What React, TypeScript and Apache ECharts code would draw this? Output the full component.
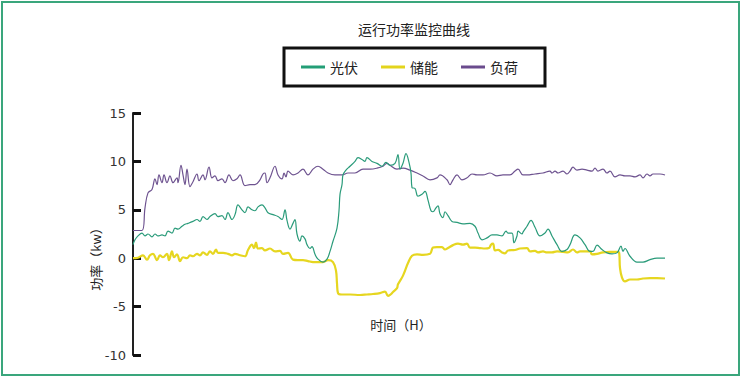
import React, { useEffect, useRef } from "react";
import * as echarts from "echarts";

// time steps along the x axis (arbitrary units, 0..532), values in kW
const loadData: [number, number][] = [
  [0, 2.86], [9, 2.86], [12, 5.2], [15, 6.75], [19, 7.1], [22, 8.2], [24, 7.6], [26, 8.6], [29, 7.8], [31, 8.6],
  [34, 7.8], [37, 8.5], [40, 7.8], [44, 8.3], [45, 7.8], [48, 9.6], [50, 8.6], [52, 7.6], [54, 9.2], [57, 7.4],
  [60, 7.9], [64, 8.7], [66, 8.0], [70, 8.6], [72, 8.1], [76, 9.4], [79, 8.3], [82, 8.5], [85, 8.0], [89, 8.2],
  [92, 7.8], [96, 8.6], [100, 8.0], [104, 8.2], [107, 8.6], [112, 7.5], [117, 7.6], [122, 7.6], [127, 8.1], [130, 8.7],
  [132, 8.8], [134, 7.8], [137, 8.3], [142, 9.5], [145, 8.6], [149, 8.2], [151, 8.8], [153, 8.4], [155, 9.0], [160, 8.6],
  [165, 8.8], [170, 9.2], [175, 8.6], [180, 9.2], [185, 9.5], [190, 9.2], [195, 8.8], [202, 8.6], [209, 8.6], [215, 8.8],
  [222, 8.8], [230, 9.2], [237, 9.2], [244, 9.3], [250, 9.5], [254, 9.8], [257, 9.6], [264, 9.2], [270, 9.3], [277, 9.1],
  [284, 8.8], [290, 8.5], [297, 8.1], [304, 8.3], [307, 8.6], [314, 8.1], [317, 7.6], [320, 8.1], [324, 8.6], [329, 8.1],
  [334, 8.3], [339, 8.7], [344, 8.6], [350, 8.6], [357, 8.8], [364, 8.5], [370, 8.6], [377, 8.6], [382, 9.0], [385, 9.2],
  [390, 8.6], [394, 8.6], [402, 8.7], [410, 8.8], [417, 9.0], [419, 8.8], [422, 9.0], [425, 8.8], [430, 9.0], [434, 8.7],
  [437, 9.0], [440, 9.4], [444, 9.1], [449, 9.2], [454, 9.1], [459, 9.0], [462, 9.3], [465, 9.0], [470, 9.2], [474, 8.8],
  [477, 9.0], [482, 8.4], [487, 8.6], [492, 8.5], [497, 8.5], [502, 8.4], [507, 8.6], [510, 8.3], [514, 8.7], [517, 8.5],
  [520, 8.7], [527, 8.7], [532, 8.6],
];

const pvData: [number, number][] = [
  [0, 1.4], [2, 1.9], [5, 2.3], [9, 2.6], [12, 2.3], [15, 2.5], [19, 2.2], [22, 2.5], [25, 2.3], [29, 2.4],
  [32, 2.3], [35, 2.8], [39, 2.6], [42, 3.1], [45, 3.0], [49, 3.3], [52, 3.5], [55, 3.6], [60, 3.8], [64, 4.0],
  [67, 3.8], [70, 4.3], [74, 4.0], [77, 4.3], [82, 4.6], [85, 4.3], [89, 4.4], [92, 4.0], [95, 4.7], [99, 4.0],
  [102, 4.5], [105, 5.5], [109, 5.0], [112, 4.7], [115, 5.3], [119, 5.0], [122, 4.9], [125, 5.3], [129, 5.5], [132, 5.2],
  [135, 4.7], [140, 4.5], [145, 4.3], [149, 4.0], [152, 5.0], [154, 3.9], [157, 3.0], [160, 3.6], [162, 4.0], [164, 2.5],
  [167, 1.75], [169, 2.3], [172, 2.0], [174, 1.4], [177, 1.0], [179, 1.2], [182, 0.4], [185, -0.1], [190, -0.4], [194, -0.1],
  [197, 0.7], [200, 1.75], [204, 3.1], [206, 4.9], [207, 6.6], [209, 7.6], [210, 8.6], [213, 9.1], [217, 9.5], [222, 10.0],
  [225, 10.4], [229, 10.2], [232, 10.0], [234, 10.4], [239, 10.0], [244, 9.8], [249, 9.5], [253, 9.9], [257, 9.6], [262, 9.8],
  [265, 10.7], [267, 9.2], [270, 9.8], [273, 10.8], [276, 9.9], [278, 8.8], [279, 7.3], [282, 7.2], [285, 6.4], [289, 6.6],
  [292, 6.9], [295, 6.0], [298, 4.9], [300, 4.8], [303, 5.2], [305, 5.4], [307, 4.6], [310, 4.2], [312, 4.8], [315, 4.4],
  [319, 3.8], [324, 3.7], [330, 3.55], [337, 3.6], [342, 3.3], [345, 2.6], [349, 1.9], [354, 2.1], [359, 2.4], [364, 2.4],
  [369, 2.3], [373, 2.8], [375, 2.6], [379, 2.6], [381, 1.6], [384, 2.3], [385, 2.8], [389, 2.5], [390, 2.7], [394, 3.3],
  [398, 3.9], [402, 3.2], [407, 2.3], [412, 2.6], [415, 3.0], [419, 2.3], [424, 1.4], [429, 0.7], [434, 0.9], [437, 1.4],
  [442, 2.4], [447, 2.1], [452, 1.4], [457, 0.7], [460, 0.7], [464, 1.35], [469, 0.9], [474, 0.55], [479, 0.45], [484, 0.55],
  [488, 1.25], [490, 0.7], [492, 1.0], [497, 0.2], [504, -0.4], [510, -0.4], [517, -0.15], [524, 0.0], [532, 0.0],
];

const storageData: [number, number][] = [
  [0, 0.0], [5, 0.05], [10, 0.3], [14, -0.15], [17, 0.3], [20, 0.45], [24, -0.2], [27, 0.3], [30, 0.1], [34, 0.45],
  [36, -0.2], [39, 0.7], [41, 0.1], [44, 0.4], [47, -0.3], [50, 0.1], [54, 0.0], [57, 0.3], [60, 0.2], [64, 0.45],
  [67, 0.3], [70, 0.6], [74, 0.35], [77, 0.7], [80, 0.45], [83, 0.9], [85, 0.55], [90, 0.55], [95, 0.45], [99, 0.3],
  [102, 0.45], [107, 0.3], [112, 0.2], [115, 0.85], [119, 1.4], [121, 1.05], [123, 1.6], [125, 1.0], [129, 1.05], [132, 0.8],
  [137, 1.0], [142, 0.7], [147, 0.75], [150, 0.45], [155, 0.55], [160, -0.15], [165, -0.2], [170, -0.2], [175, -0.3], [180, -0.4],
  [185, -0.4], [190, -0.4], [195, -0.2], [200, -0.4], [203, -1.3], [204, -2.6], [205, -3.6], [209, -3.75], [217, -3.75], [227, -3.8],
  [234, -3.75], [240, -3.7], [247, -3.6], [252, -3.45], [255, -3.9], [257, -3.8], [260, -3.5], [264, -3.1], [265, -2.7], [270, -1.8],
  [275, -0.5], [279, 0.25], [284, 0.4], [290, 0.35], [297, 0.45], [300, 1.1], [304, 1.15], [309, 1.15], [312, 0.9], [315, 1.05],
  [320, 1.35], [325, 1.5], [330, 1.4], [334, 1.5], [337, 1.1], [342, 1.1], [347, 1.05], [352, 1.0], [356, 1.05], [358, 1.4],
  [360, 1.5], [362, 0.8], [365, 0.85], [369, 0.6], [372, 0.5], [375, 0.8], [382, 0.85], [387, 1.0], [394, 1.05], [397, 0.7],
  [402, 0.75], [405, 0.6], [410, 0.7], [414, 0.6], [419, 0.6], [424, 0.7], [430, 0.65], [435, 0.6], [440, 0.9], [444, 0.6],
  [447, 0.7], [452, 0.7], [457, 0.7], [459, 0.4], [464, 0.45], [470, 0.6], [477, 0.65], [484, 0.65], [486, 0.6], [487, -1.0],
  [489, -2.0], [492, -2.4], [497, -2.2], [504, -2.2], [510, -2.1], [517, -2.05], [524, -2.05], [532, -2.1],
];

const seriesNames = ["光伏", "储能", "负荷"];
const titleText = "运行功率监控曲线";
const yAxisName = "功率（kw）";
const xAxisName = "时间（H）";

const CJK = '"Noto Sans CJK SC", "Noto Sans", sans-serif';

export default function App() {
  const ref = useRef<HTMLDivElement>(null);

  useEffect(() => {
    document.body.style.margin = "0";
    if (!ref.current) return;
    const chart = echarts.init(ref.current, undefined, { renderer: "svg" });
    chart.setOption({
      animation: false,
      backgroundColor: "#ffffff",
      title: {
        text: titleText,
        left: 358,
        top: 22,
        padding: 0,
        textStyle: { fontFamily: CJK, fontSize: 14, fontWeight: "normal", color: "#222" },
      },
      legend: {
        data: seriesNames,
        left: 284,
        top: 48,
        padding: [12, 27, 12, 17],
        borderColor: "#111",
        borderWidth: 3,
        itemWidth: 24,
        itemHeight: 3,
        itemGap: 23,
        icon: "rect",
        textStyle: { fontFamily: CJK, fontSize: 14, color: "#222" },
      },
      grid: { left: 133, right: 77, top: 113, bottom: 23, containLabel: false },
      xAxis: {
        type: "value",
        min: 0,
        max: 532,
        show: false,
      },
      yAxis: {
        type: "value",
        min: -10,
        max: 15,
        interval: 5,
        axisLine: { show: true, lineStyle: { color: "#222", width: 2 } },
        axisTick: { show: true, inside: true, length: 8, lineStyle: { color: "#111", width: 3 } },
        axisLabel: { margin: 7, fontFamily: '"DejaVu Sans", sans-serif', fontSize: 13, color: "#333" },
        splitLine: { show: false },
      },
      graphic: [
        {
          type: "rect",
          shape: { x: 2, y: 2, width: 737, height: 373 },
          style: { fill: "none", stroke: "#3aa67c", lineWidth: 2 },
          silent: true,
        },
        {
          type: "text",
          x: 95,
          y: 256,
          rotation: Math.PI / 2,
          style: {
            text: yAxisName,
            fontFamily: CJK,
            fontSize: 13,
            fill: "#222",
            align: "center",
            verticalAlign: "middle",
          },
        },
        {
          type: "text",
          x: 401,
          y: 324,
          style: {
            text: xAxisName,
            fontFamily: CJK,
            fontSize: 13,
            fill: "#222",
            align: "center",
            verticalAlign: "middle",
          },
        },
      ],
      series: [
        {
          name: seriesNames[0],
          type: "line",
          data: pvData,
          smooth: 0.4,
          symbol: "none",
          color: "#239e76",
          lineStyle: { width: 1.2, color: "#2a9b7a" },
          z: 3,
        },
        {
          name: seriesNames[1],
          type: "line",
          data: storageData,
          smooth: 0.4,
          symbol: "none",
          color: "#e3d41c",
          lineStyle: { width: 2.2, color: "#e6d620" },
          z: 2,
        },
        {
          name: seriesNames[2],
          type: "line",
          data: loadData,
          smooth: 0.4,
          symbol: "none",
          color: "#6a4b8d",
          lineStyle: { width: 1.2, color: "#6e5390" },
          z: 1,
        },
      ],
    });
    return () => chart.dispose();
  }, []);

  return <div ref={ref} style={{ width: 742, height: 378 }} />;
}
